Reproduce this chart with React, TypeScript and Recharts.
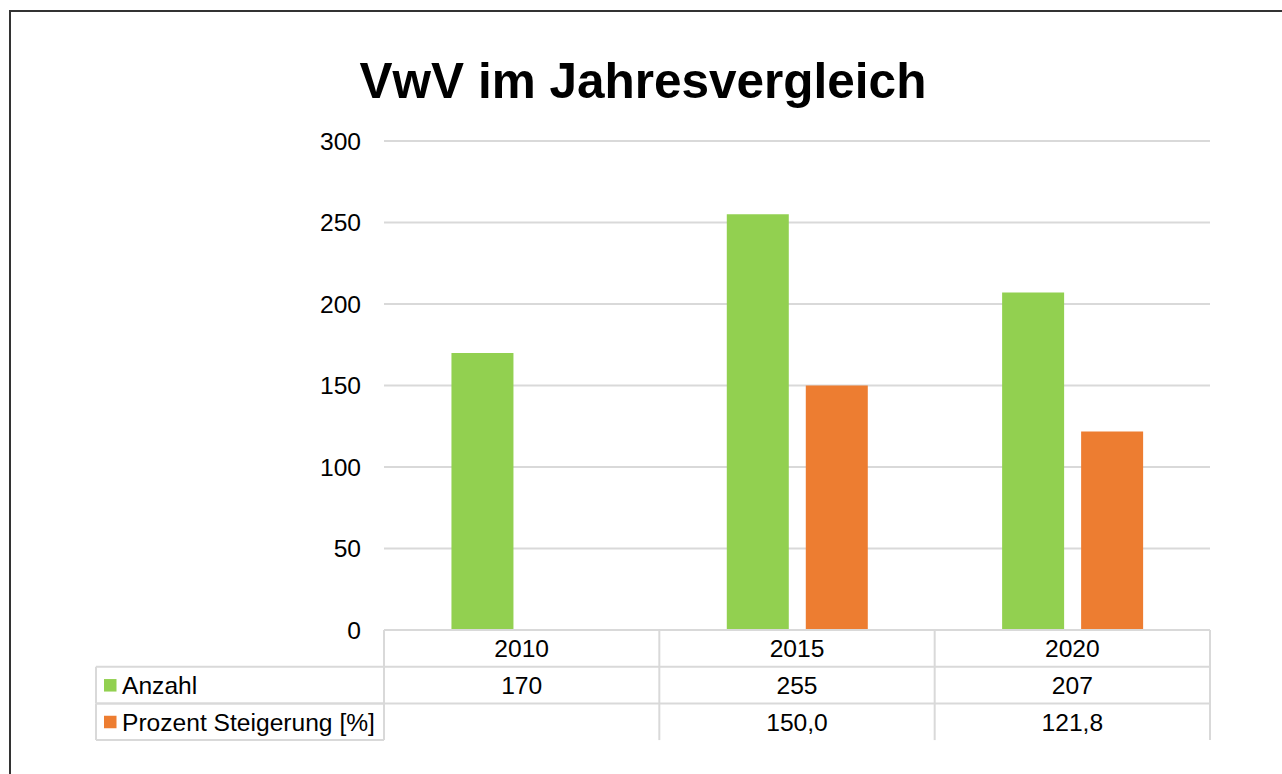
import { BarChart, Bar, XAxis, YAxis, CartesianGrid } from "recharts"

const years = ["2010", "2015", "2020"]
const anzahl = [170, 255, 207]
const prozent: (number | null)[] = [null, 150.0, 121.8]
const yTicks = [0, 50, 100, 150, 200, 250, 300]

const FONT = "'Liberation Sans', Arial, Helvetica, sans-serif"
const LINE = "#d9d9d9"
const GREEN = "#92D050"
const ORANGE = "#ED7D31"
const TABLE_FONT = 24.6

type Row = {
  key: string
  label: string
  color: string
  values: (number | null)[]
  format: (v: number) => string
}

const rows: Row[] = [
  { key: "anzahl", label: "Anzahl", color: GREEN, values: anzahl, format: (v) => String(v) },
  {
    key: "prozent",
    label: "Prozent Steigerung [%]",
    color: ORANGE,
    values: prozent,
    format: (v) => v.toFixed(1).replace(".", ","),
  },
]

const data = years.map((year, i) => ({ year, anzahl: anzahl[i], prozent: prozent[i] }))

const ROW_H = 36.7
const LABEL_COL_W = 288

// draws one column of the data table under the axis (and the label column for the first one)
function TableTick(props: any) {
  const { x, y, payload, width } = props
  const i = payload.index
  const colW = payload.offset ? payload.offset * 2 : width / years.length
  const left = x - colW / 2
  const right = x + colW / 2
  const bottom = y + ROW_H * (rows.length + 1)
  const textProps = { fontFamily: FONT, fontSize: TABLE_FONT, fill: "#000", textAnchor: "middle" as const }

  return (
    <g>
      <line x1={left} x2={right} y1={y} y2={y} stroke={LINE} strokeWidth={2} />
      {rows.map((_, r) => (
        <line
          key={r}
          x1={left}
          x2={right}
          y1={y + ROW_H * (r + 1)}
          y2={y + ROW_H * (r + 1)}
          stroke={LINE}
          strokeWidth={2}
        />
      ))}
      <line x1={right} x2={right} y1={y} y2={bottom} stroke={LINE} strokeWidth={2} />
      {i === 0 && <line x1={left} x2={left} y1={y} y2={bottom} stroke={LINE} strokeWidth={2} />}
      <text x={x} y={y + ROW_H / 2} dy="0.36em" {...textProps}>
        {payload.value}
      </text>
      {rows.map((row, r) => {
        const v = row.values[i]
        return v == null ? null : (
          <text key={row.key} x={x} y={y + ROW_H * (r + 1.5)} dy="0.36em" {...textProps}>
            {row.format(v)}
          </text>
        )
      })}
      {i === 0 && (
        <g>
          {rows.map((row, r) => {
            const top = y + ROW_H * (r + 1)
            const cy = top + ROW_H / 2
            return (
              <g key={row.key}>
                <line x1={left - LABEL_COL_W} x2={left} y1={top} y2={top} stroke={LINE} strokeWidth={2} />
                <line
                  x1={left - LABEL_COL_W}
                  x2={left}
                  y1={top + ROW_H}
                  y2={top + ROW_H}
                  stroke={LINE}
                  strokeWidth={2}
                />
                <line
                  x1={left - LABEL_COL_W}
                  x2={left - LABEL_COL_W}
                  y1={top}
                  y2={top + ROW_H}
                  stroke={LINE}
                  strokeWidth={2}
                />
                <rect x={left - LABEL_COL_W + 8} y={cy - 6} width={12.5} height={12.5} fill={row.color} />
                <text
                  x={left - LABEL_COL_W + 26}
                  y={cy}
                  dy="0.36em"
                  fontFamily={FONT}
                  fontSize={TABLE_FONT}
                  fill="#000"
                >
                  {row.label}
                </text>
              </g>
            )
          })}
        </g>
      )}
    </g>
  )
}

export default function App() {
  return (
    <div
      style={{
        position: "absolute",
        left: 0,
        top: 0,
        width: 1282,
        height: 774,
        overflow: "hidden",
        background: "#fff",
      }}
    >
      <div
        style={{
          position: "absolute",
          left: 9,
          top: 10,
          width: 1320,
          height: 820,
          border: "2px solid #333",
        }}
      />
      <div style={{ position: "absolute", left: 0, top: 0 }}>
        <BarChart
          width={1282}
          height={774}
          data={data}
          margin={{ top: 141, right: 72, bottom: 34, left: 324 }}
          barCategoryGap="24.5%"
          barGap={17}
        >
          <CartesianGrid vertical={false} stroke={LINE} strokeWidth={2} />
          <XAxis
            dataKey="year"
            height={110}
            interval={0}
            axisLine={false}
            tickLine={false}
            tickSize={0}
            tickMargin={0}
            tick={(p: any) => <TableTick {...p} />}
          />
          <YAxis
            domain={[0, 300]}
            ticks={yTicks}
            width={60}
            axisLine={false}
            tickLine={false}
            tickSize={0}
            tickMargin={23}
            tick={{ fontSize: 24.6, fill: "#000", fontFamily: FONT }}
          />
          <Bar dataKey="anzahl" fill={GREEN} isAnimationActive={false} />
          <Bar dataKey="prozent" fill={ORANGE} isAnimationActive={false} />
        </BarChart>
      </div>
      <svg style={{ position: "absolute", left: 0, top: 0 }} width={1282} height={130}>
        <text
          x={643}
          y={98}
          textAnchor="middle"
          fontFamily={FONT}
          fontSize={49.5}
          fontWeight="bold"
          fill="#000"
        >
          VwV im Jahresvergleich
        </text>
      </svg>
    </div>
  )
}
